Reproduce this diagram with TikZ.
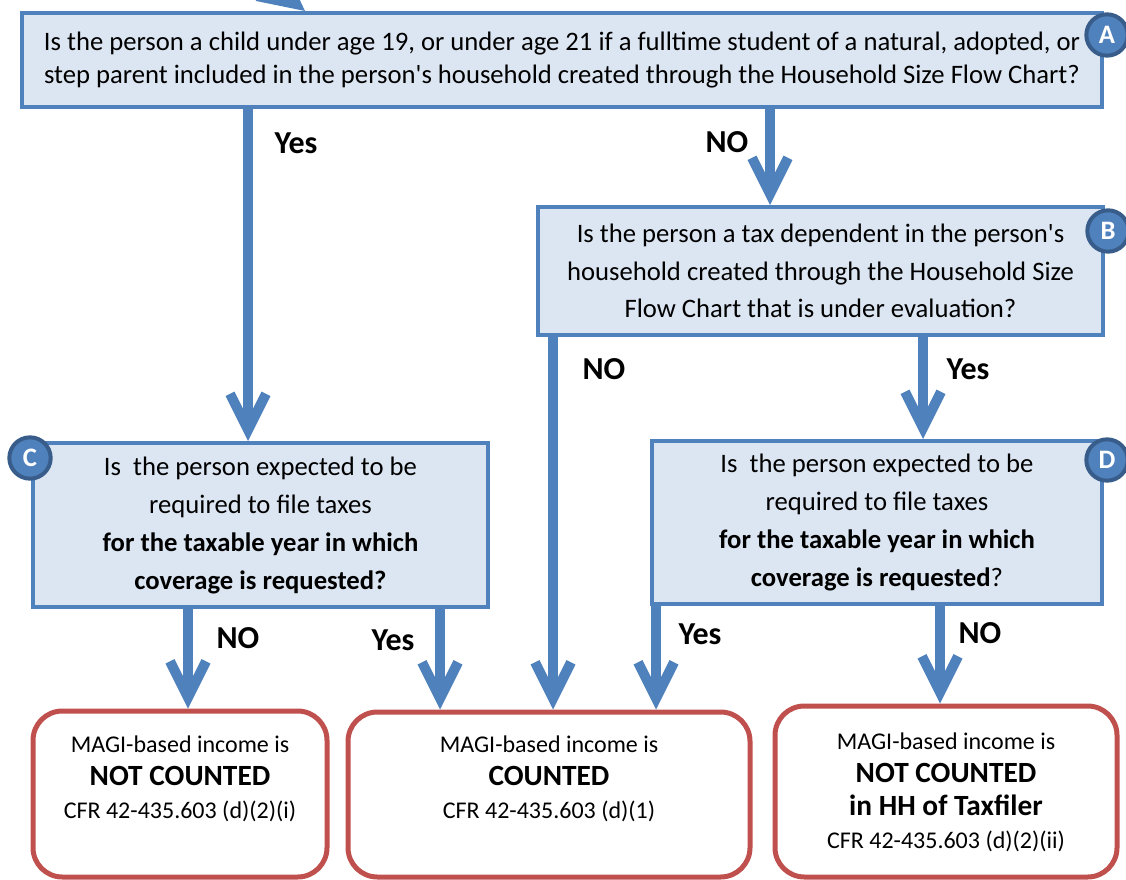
\documentclass[tikz,border=0pt]{standalone}
\usepackage{fontspec}
\setmainfont{Carlito}[Ligatures=TeXOff]
\usetikzlibrary{arrows.meta}
\definecolor{bfill}{HTML}{DCE6F2}
\definecolor{bline}{HTML}{4F81BD}
\definecolor{cline}{HTML}{385D8A}
\definecolor{rline}{HTML}{C0504D}
\begin{document}
\begin{tikzpicture}[x=0.75pt,y=-0.75pt,
 qbox/.style={draw=bline,fill=bfill,line width=3pt,align=center,inner sep=0pt},
 rbox/.style={draw=rline,line width=3.75pt,rounded corners=22pt,fill=white,inner sep=0pt},
 rtext/.style={align=center,inner sep=0pt,font=\fontsize{18}{24.75}\selectfont},
 badge/.style={circle,draw=cline,fill=bline,line width=3pt,minimum size=31pt,inner sep=0pt,text=white,font=\fontsize{20}{20}\selectfont\bfseries},
 arr/.style={draw=bline,line width=7.5pt,-{Straight Barb[length=27pt,width=27pt]}},
 lab/.style={font=\fontsize{24}{24}\selectfont\bfseries,inner sep=0pt}
]
\useasboundingbox (0,0) rectangle (1126,880);
\clip (0,0) rectangle (1126,880);
% question boxes
\node[qbox,minimum width=810pt,minimum height=70.5pt,font=\fontsize{20}{24.75}\selectfont] (A) at (562,60)
 {Is the person a child under age 19, or under age 21 if a fulltime student of a natural, adopted, or\\
  step parent included in the person's household created through the Household Size Flow Chart?};
\node[qbox,minimum width=423.75pt,minimum height=96pt,font=\fontsize{20}{28}\selectfont] (B) at (820.5,271)
 {Is the person a tax dependent in the person's\\household created through the Household Size\\Flow Chart that is under evaluation?};
\node[qbox,minimum width=341.25pt,minimum height=123pt,font=\fontsize{20}{28.5}\selectfont] (C) at (260.5,525)
 {Is\ \ the person expected to be\\required to file taxes\\\textbf{for the taxable year in which}\\\textbf{coverage is requested?}};
\node[qbox,minimum width=337.5pt,minimum height=122.25pt,font=\fontsize{20}{28.5}\selectfont] (D) at (877,522.5)
 {Is\ \ the person expected to be\\required to file taxes\\\textbf{for the taxable year in which}\\\textbf{coverage is requested}?};
% result boxes
\node[rbox,minimum width=220.5pt,minimum height=124.5pt] (R1) at (180,794) {};
\node[rbox,minimum width=301.5pt,minimum height=123.75pt] (R2) at (549,794.5) {};
\node[rbox,minimum width=256.5pt,minimum height=128.25pt] (R3) at (946,791.5) {};
\node[rtext] (R1t) at (180,779) {MAGI-based income is\\{\fontsize{22}{24.75}\selectfont\bfseries NOT COUNTED}\\CFR 42-435.603 (d)(2)(i)};
\node[rtext] (R2t) at (549,779) {MAGI-based income is\\{\fontsize{22}{24.75}\selectfont\bfseries COUNTED}\\CFR 42-435.603 (d)(1)};
\node[rtext] (R3t) at (946,792) {MAGI-based income is\\{\fontsize{22}{24.75}\selectfont\bfseries NOT COUNTED}\\{\fontsize{22}{26}\selectfont\bfseries in HH of Taxfiler}\\CFR 42-435.603 (d)(2)(ii)};
% connectors
\coordinate (top) at (240,-40);
\coordinate (x0) at (305,0);
\coordinate (x1) at (248,0);
\coordinate (x2) at (770,0);
\coordinate (x3) at (553,0);
\coordinate (x4) at (923,0);
\coordinate (x5) at (188,0);
\coordinate (x6) at (440,0);
\coordinate (x7) at (656,0);
\coordinate (x8) at (940,0);
\draw[arr] (top) -- (A.north -| x0);
\draw[arr] (A.south -| x1) -- (C.north -| x1);
\draw[arr] (A.south -| x2) -- (B.north -| x2);
\draw[arr] (B.south -| x3) -- (R2.north -| x3);
\draw[arr] (B.south -| x4) -- (D.north -| x4);
\draw[arr] (C.south -| x5) -- (R1.north -| x5);
\draw[arr] (C.south -| x6) -- (R2.north -| x6);
\draw[arr] (D.south -| x7) -- (R2.north -| x7);
\draw[arr] (D.south -| x8) -- (R3.north -| x8);
% labels
\node[lab] (l1) at (296,143) {Yes};
\node[lab] (l2) at (727,142) {NO};
\node[lab] (l3) at (604,369) {NO};
\node[lab] (l4) at (968,369) {Yes};
\node[lab] (l5) at (238,638) {NO};
\node[lab] (l6) at (393,640) {Yes};
\node[lab] (l7) at (700,634) {Yes};
\node[lab] (l8) at (980,633) {NO};
% badges
\node[badge] (bA) at (1107,35) {A};
\node[badge] (bB) at (1108,231) {B};
\node[badge] (bC) at (30,458) {C};
\node[badge] (bD) at (1107,460) {D};
\end{tikzpicture}
\end{document}
